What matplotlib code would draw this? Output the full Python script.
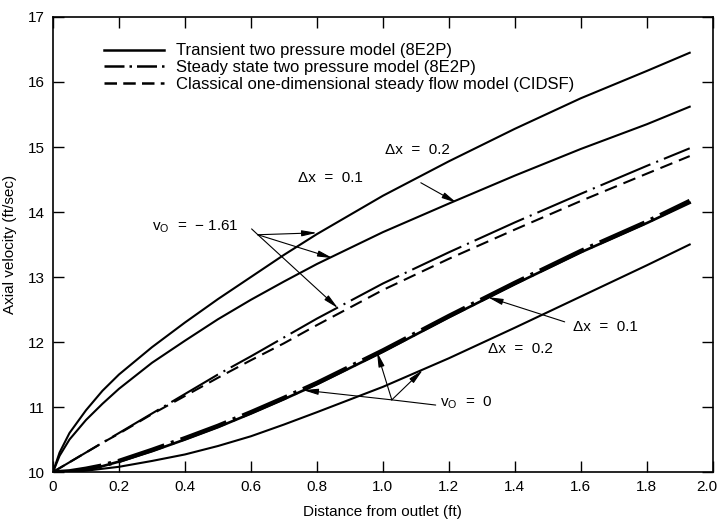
import numpy as np
import matplotlib
matplotlib.use("Agg")
import matplotlib.pyplot as plt
import matplotlib.transforms as mtransforms
from matplotlib.lines import Line2D

plt.rcParams['font.family'] = ['Liberation Sans', 'DejaVu Sans']
plt.rcParams['mathtext.fontset'] = 'custom'
plt.rcParams['mathtext.rm'] = 'Liberation Sans'

# distance from outlet (ft)
dist = [0, 0.02, 0.05, 0.1, 0.15, 0.2, 0.3, 0.4, 0.5, 0.6, 0.7, 0.8,
        1.0, 1.2, 1.4, 1.6, 1.8, 1.93]

# v0 = -1.61
trans_dx02_neg = [10, 10.3, 10.6, 10.95, 11.25, 11.5, 11.92, 12.3, 12.66, 13.0, 13.34, 13.66,
                  14.25, 14.78, 15.28, 15.75, 16.17, 16.45]
trans_dx01_neg = [10, 10.25, 10.5, 10.8, 11.05, 11.28, 11.68, 12.02, 12.35, 12.65, 12.93, 13.2,
                  13.69, 14.13, 14.56, 14.97, 15.35, 15.62]
steady_neg = [10, 10.06, 10.15, 10.3, 10.45, 10.6, 10.9, 11.2, 11.5, 11.78, 12.07, 12.36,
              12.9, 13.38, 13.84, 14.28, 14.71, 14.98]
cidsf = [10, 10.06, 10.15, 10.3, 10.45, 10.59, 10.89, 11.17, 11.45, 11.72, 11.98, 12.26,
         12.8, 13.28, 13.73, 14.17, 14.59, 14.86]

# v0 = 0
trans_dx01_zero = [10, 10.0, 10.01, 10.04, 10.09, 10.16, 10.32, 10.5, 10.69, 10.9, 11.12, 11.35,
                   11.85, 12.38, 12.89, 13.38, 13.83, 14.14]
steady_zero = [10, 10.0, 10.01, 10.05, 10.1, 10.17, 10.34, 10.52, 10.71, 10.92, 11.14, 11.37,
               11.87, 12.4, 12.91, 13.4, 13.85, 14.17]
trans_dx02_zero = [10, 10.0, 10.0, 10.02, 10.05, 10.08, 10.17, 10.27, 10.4, 10.55, 10.73, 10.92,
                   11.31, 11.75, 12.22, 12.7, 13.18, 13.5]

legend_labels = ["Transient two pressure model (8E2P)",
                 "Steady state two pressure model (8E2P)",
                 "Classical one-dimensional steady flow model (CIDSF)"]

fig = plt.figure(figsize=(7.2, 5.23), dpi=100)
ax = fig.add_axes([0.0736, 0.0975, 0.9164, 0.87])

ax.plot(dist, trans_dx02_neg, color='black', lw=1.5)
ax.plot(dist, trans_dx01_neg, color='black', lw=1.5)
ax.plot(dist, steady_neg, color='black', lw=1.5, dashes=(26, 3, 1, 3))
ax.plot(dist, cidsf, color='black', lw=1.5, dashes=(6.2, 3.4))
ax.plot(dist, trans_dx01_zero, color='black', lw=1.9)
ax.plot(dist, steady_zero, color='black', lw=3.2, dashes=(11, 1.6, 0.7, 1.6))
ax.plot(dist, trans_dx02_zero, color='black', lw=1.5)

ax.set_xlim(0, 2.0)
ax.set_ylim(10, 17)
ax.set_xticks(np.arange(0, 2.01, 0.2))
ax.set_xticklabels(["0", "0.2", "0.4", "0.6", "0.8", "1.0", "1.2", "1.4", "1.6", "1.8", "2.0"])
ax.set_yticks(range(10, 18))
ax.tick_params(direction='in', length=8, width=1, top=True, right=True, labelsize=11, pad=6)
for s in ax.spines.values():
    s.set_linewidth(1.2)

# keep the last x label inside the figure
last = ax.get_xticklabels()[-1]
last.set_transform(last.get_transform() +
                   mtransforms.ScaledTranslation(-0.06, 0, fig.dpi_scale_trans))

ax.set_xlabel("Distance from outlet (ft)", fontsize=11, labelpad=8)
ax.set_ylabel("Axial velocity (ft/sec)", fontsize=11, labelpad=8)

handles = [Line2D([], [], color='black', lw=1.8),
           Line2D([], [], color='black', lw=1.8, dashes=(8, 2, 1, 2)),
           Line2D([], [], color='black', lw=1.8, dashes=(5, 2.5))]
ax.legend(handles, legend_labels, loc='upper left',
          bbox_to_anchor=(0.055, 0.975), frameon=False, fontsize=12,
          handlelength=3.6, handletextpad=0.7, labelspacing=0.1)

arrow = dict(arrowstyle='-|>,head_length=0.9,head_width=0.18', color='black',
             lw=0.8, shrinkA=0, shrinkB=0)
line = dict(arrowstyle='-', color='black', lw=0.8, shrinkA=0, shrinkB=0)
fs = 11

ax.text(1.006, 14.95, "Δx  =  0.2", fontsize=fs, va='center', ha='left')
ax.text(0.742, 14.52, "Δx  =  0.1", fontsize=fs, va='center', ha='left')
ax.annotate("", xy=(1.224, 14.14), xytext=(1.115, 14.45), arrowprops=arrow)

ax.text(0.30, 13.77, r"v$_{\rm O}$  =  $-$ 1.61", fontsize=fs, va='center', ha='left')
ax.annotate("", xy=(0.621, 13.65), xytext=(0.602, 13.74), arrowprops=line)
for tip in [(0.8, 13.68), (0.848, 13.29), (0.864, 12.52)]:
    ax.annotate("", xy=tip, xytext=(0.621, 13.65), arrowprops=arrow)

ax.text(1.576, 12.23, "Δx  =  0.1", fontsize=fs, va='center', ha='left')
ax.annotate("", xy=(1.318, 12.69), xytext=(1.551, 12.31), arrowprops=arrow)
ax.text(1.318, 11.89, "Δx  =  0.2", fontsize=fs, va='center', ha='left')

ax.text(1.173, 11.06, r"v$_{\rm O}$  =  0", fontsize=fs, va='center', ha='left')
ax.annotate("", xy=(1.027, 11.11), xytext=(1.16, 11.03), arrowprops=line)
for tip in [(0.758, 11.26), (0.982, 11.85), (1.121, 11.57)]:
    ax.annotate("", xy=tip, xytext=(1.027, 11.11), arrowprops=arrow)

fig.savefig("out.png", dpi=100)
